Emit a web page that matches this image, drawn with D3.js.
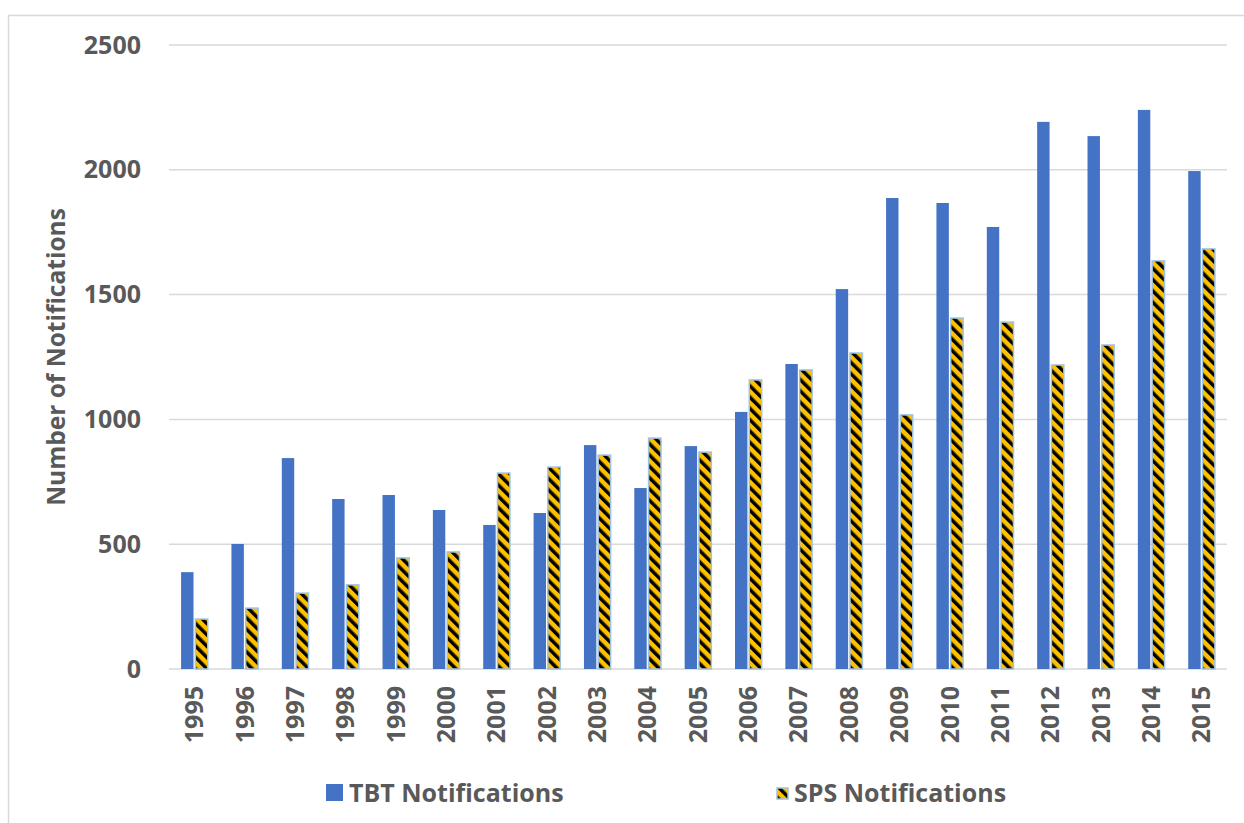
<!DOCTYPE html>
<html>
<head>
<meta charset="utf-8">
<script src="https://cdn.jsdelivr.net/npm/d3@7"></script>
<style>
  body { margin: 0; background: #fff; }
  text { font-family: "Open Sans", sans-serif; font-weight: bold; fill: #595959; }
</style>
</head>
<body>
<div id="chart"></div>
<script>
// data
let years = ["1995","1996","1997","1998","1999","2000","2001","2002","2003","2004","2005",
             "2006","2007","2008","2009","2010","2011","2012","2013","2014","2015"];
let tbt = [388, 501, 845, 681, 697, 637, 577, 625, 897, 725, 893,
           1030, 1222, 1522, 1887, 1867, 1771, 2192, 2135, 2240, 1995];
let sps = [200, 244, 304, 337, 445, 469, 785, 809, 857, 925, 869,
           1158, 1198, 1266, 1018, 1406, 1390, 1218, 1298, 1635, 1683];
let y_ticks = [0, 500, 1000, 1500, 2000, 2500];
let series_names = ["TBT Notifications", "SPS Notifications"];

let width = 1244;
let height = 823;
let margin = {top: 45, right: 17, bottom: 154, left: 169};
let plot_w = width - margin.left - margin.right;
let plot_h = height - margin.top - margin.bottom;

let svg = d3.select("#chart")
            .append("svg")
            .attr("width", width)
            .attr("height", height);

// stripe pattern for SPS bars
let defs = svg.append("defs");
let pat = defs.append("pattern")
              .attr("id", "stripes")
              .attr("patternUnits", "userSpaceOnUse")
              .attr("width", 8)
              .attr("height", 8)
              .attr("patternTransform", "rotate(-45)");
pat.append("rect").attr("width", 8).attr("height", 8).attr("fill", "#FFC000");
pat.append("rect").attr("width", 3.5).attr("height", 8).attr("fill", "#000");

// chart frame
svg.append("rect")
   .attr("x", 8.5)
   .attr("y", 15.5)
   .attr("width", 1260)
   .attr("height", 830)
   .attr("fill", "none")
   .attr("stroke", "#D9D9D9")
   .attr("stroke-width", 1.5);

let g = svg.append("g")
           .attr("transform", "translate(" + margin.left + "," + margin.top + ")");

let x = d3.scaleBand()
          .domain(years)
          .range([0, plot_w])
          .paddingInner(0.47)
          .paddingOuter(0.24);

let x1 = d3.scaleBand()
           .domain([0, 1])
           .range([0, x.bandwidth()])
           .paddingInner(0.13);

let y = d3.scaleLinear()
          .domain([0, 2500])
          .range([plot_h, 0]);

// gridlines
g.append("g")
 .selectAll("line")
 .data(y_ticks)
 .enter()
 .append("line")
 .attr("x1", 0)
 .attr("x2", plot_w)
 .attr("y1", d => y(d))
 .attr("y2", d => y(d))
 .attr("stroke", "#D9D9D9")
 .attr("stroke-width", 1.5);

// y labels
let yAxis = g.append("g")
             .call(d3.axisLeft(y).tickValues(y_ticks).tickFormat(d3.format("d")).tickSize(0).tickPadding(28));
yAxis.select(".domain").remove();
yAxis.selectAll("text")
     .attr("font-size", 25)
     .attr("font-family", "Open Sans")
     .attr("fill", "#595959");

// x labels
let xAxis = g.append("g")
             .attr("transform", "translate(0," + plot_h + ")")
             .call(d3.axisBottom(x).tickSize(0));
xAxis.select(".domain").remove();
xAxis.selectAll("text")
     .attr("font-size", 25)
     .attr("font-family", "Open Sans")
     .attr("fill", "#595959")
     .attr("transform", "rotate(-90)")
     .attr("text-anchor", "end")
     .attr("x", -17)
     .attr("y", 0)
     .attr("dy", "0.35em");

// TBT bars
g.append("g")
 .selectAll("rect")
 .data(tbt)
 .enter()
 .append("rect")
 .attr("x", (d, i) => x(years[i]) + x1(0))
 .attr("y", d => y(d))
 .attr("width", x1.bandwidth())
 .attr("height", d => plot_h - y(d))
 .attr("fill", "#4472C4");

// SPS bars
g.append("g")
 .selectAll("rect")
 .data(sps)
 .enter()
 .append("rect")
 .attr("x", (d, i) => x(years[i]) + x1(1))
 .attr("y", d => y(d))
 .attr("width", x1.bandwidth())
 .attr("height", d => plot_h - y(d))
 .attr("fill", "url(#stripes)")
 .attr("stroke", "#9DC3E6")
 .attr("stroke-width", 1.5);

// y axis title
svg.append("text")
   .attr("transform", "translate(65,357) rotate(-90)")
   .attr("text-anchor", "middle")
   .attr("font-size", 24.5)
   .text("Number of Notifications");

// legend
let lg = svg.append("g");
lg.append("rect")
  .attr("x", 326)
  .attr("y", 784)
  .attr("width", 17)
  .attr("height", 17)
  .attr("fill", "#4472C4");
lg.append("text")
  .attr("x", 349)
  .attr("y", 802)
  .attr("font-size", 25)
  .text(series_names[0]);
lg.append("rect")
  .attr("x", 777)
  .attr("y", 788)
  .attr("width", 11)
  .attr("height", 11)
  .attr("fill", "url(#stripes)")
  .attr("stroke", "#9DC3E6")
  .attr("stroke-width", 1.5);
lg.append("text")
  .attr("x", 794)
  .attr("y", 802)
  .attr("font-size", 25)
  .text(series_names[1]);
</script>
</body>
</html>
